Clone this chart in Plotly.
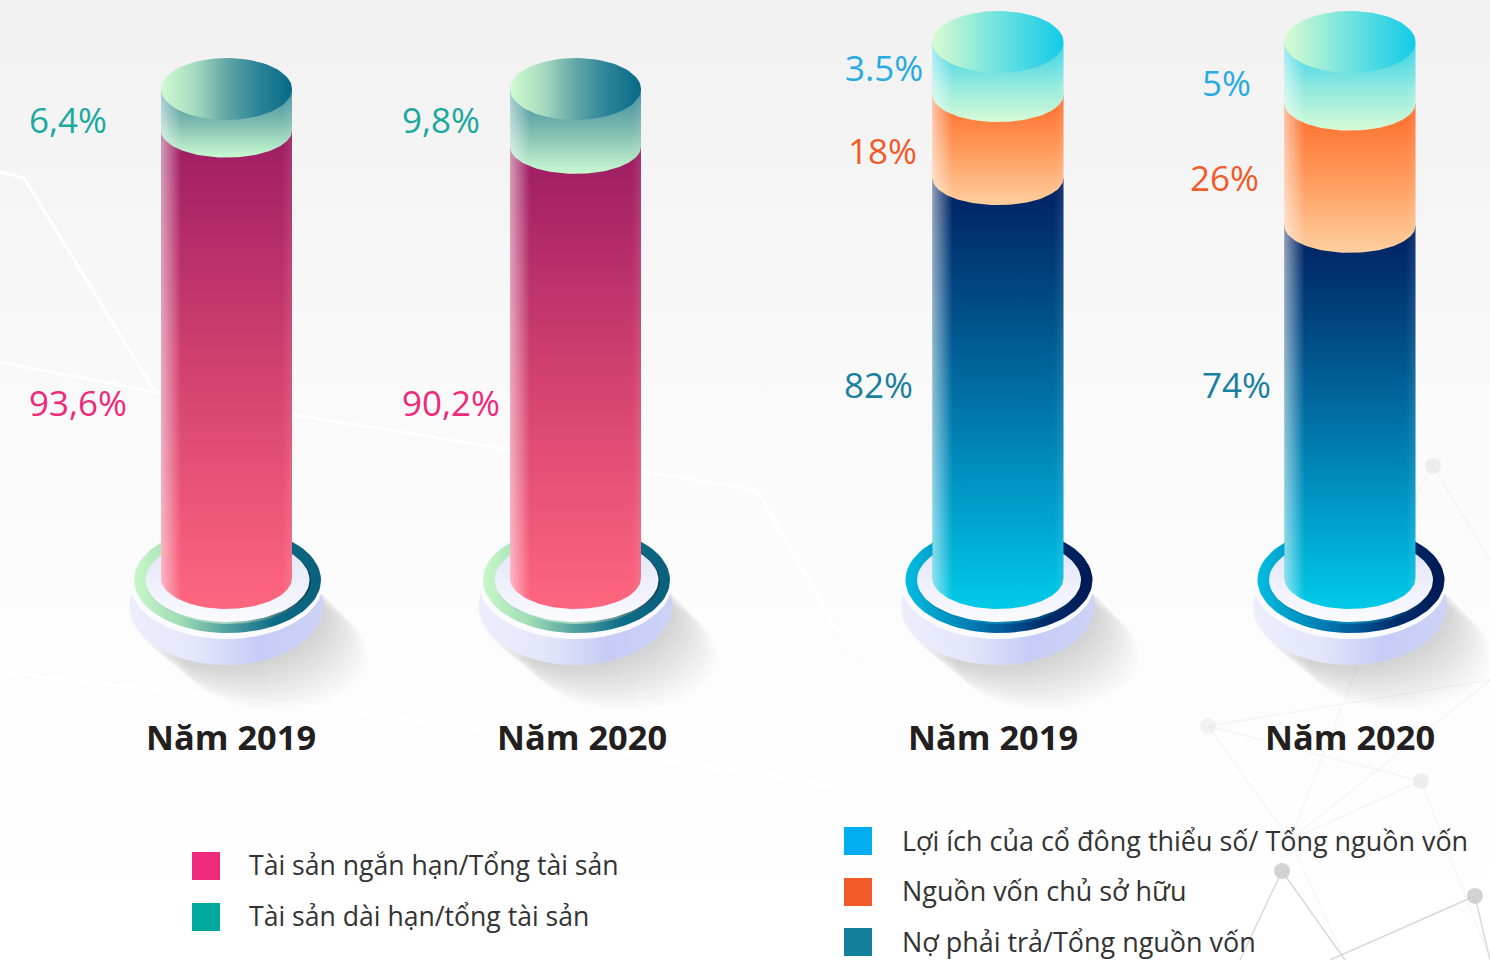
import math
import plotly.graph_objects as go

# ---------- data ----------
years = ["Năm 2019", "Năm 2020"]
asset_short = [93.6, 90.2]
asset_long = [6.4, 9.8]
asset_short_labels = ["93,6%", "90,2%"]
asset_long_labels = ["6,4%", "9,8%"]
# the right-hand cylinders are not drawn to the printed percentages:
debt_drawn = [74.6, 65.7]
equity_drawn = [15.5, 22.8]
minority_drawn = [9.9, 11.5]
debt_labels = ["82%", "74%"]
equity_labels = ["18%", "26%"]
minority_labels = ["3.5%", "5%"]
legend_left = ["Tài sản ngắn hạn/Tổng tài sản", "Tài sản dài hạn/tổng tài sản"]
legend_right = ["Lợi ích của cổ đông thiểu số/ Tổng nguồn vốn", "Nguồn vốn chủ sở hữu", "Nợ phải trả/Tổng nguồn vốn"]

PINK, TEAL, BLUE, ORANGE, PETROL = "#ee2a7b", "#00a99d", "#00aeef", "#f15a29", "#13809b"
FONT = "Open Sans"
W, H = 1490, 960
BASE_Y = 578

fig = go.Figure()


def grad(kind, stops):
    n = len(stops) - 1
    return dict(type=kind, colorscale=[[i / n, c] for i, c in enumerate(stops)])


def poly(xs, ys, g=None, color=None, axes=("x", "y"), line=None):
    kw = dict(fillgradient=g) if g else dict(fillcolor=color)
    fig.add_trace(go.Scatter(x=xs, y=ys, xaxis=axes[0], yaxis=axes[1], mode="lines", fill="toself",
                             line=line or dict(width=0), hoverinfo="skip", showlegend=False, **kw))


def ellipse(cx, cy, rx, ry, n=90):
    ts = [2 * math.pi * i / n for i in range(n + 1)]
    return [cx + rx * math.cos(t) for t in ts], [cy + ry * math.sin(t) for t in ts]


# ---------- backdrop, drawn on a page-sized axis pair ----------
poly([0, W, W, 0, 0], [0, 0, H, H, 0], g=grad("vertical", ["#ffffff", "#fbfbfb", "#f1f1f1"]))

white_lines = [
    ([0, 24, 155], [172, 178, 392]),
    ([0, 155, 757, 880], [362, 392, 490, 705]),
    ([0, 380, 860], [672, 715, 790]),
    ([300, 385], [640, 780]),
]
for xs, ys in white_lines:
    fig.add_trace(go.Scatter(x=xs, y=ys, mode="lines", line=dict(color="rgba(255,255,255,0.95)", width=3),
                             hoverinfo="skip", showlegend=False))

net_nodes = {"a": (1282, 871), "b": (1475, 896), "c": (1421, 781), "d": (1208, 726), "e": (1433, 466),
             "f": (1290, 840), "g": (1345, 960), "h": (1240, 960), "i": (1330, 960), "j": (1490, 960),
             "k": (1360, 660), "l": (1490, 680), "m": (1490, 560), "n": (1340, 630)}
net_edges = [("a", "h"), ("a", "g"), ("b", "i"), ("b", "j"), ("c", "d"), ("d", "f"), ("c", "f"), ("f", "l"),
             ("f", "k"), ("d", "l"), ("c", "j"), ("e", "m"), ("e", "n"), ("f", "g")]
for p, q in net_edges:
    dark = p in ("a", "b")
    fig.add_trace(go.Scatter(x=[net_nodes[p][0], net_nodes[q][0]], y=[net_nodes[p][1], net_nodes[q][1]], mode="lines",
                             line=dict(color="rgba(205,205,205,0.8)" if dark else "rgba(225,225,225,0.3)", width=1.4),
                             hoverinfo="skip", showlegend=False))
for key, alpha in (("a", .9), ("b", .9), ("c", .3), ("d", .22), ("e", .3)):
    fig.add_trace(go.Scatter(x=[net_nodes[key][0]], y=[net_nodes[key][1]], mode="markers",
                             marker=dict(color=f"rgba(205,205,205,{alpha})", size=16, line=dict(width=0)),
                             hoverinfo="skip", showlegend=False))


def pedestal(cx, ring, edge):
    steps = 40
    for k in range(steps, -1, -1):
        f = k / steps
        xs, ys = ellipse(cx + 50 * f, 610 + 46 * f, 97 - 5 * f, 58 - 3 * f, n=60)
        poly(xs, ys, color="rgba(150,158,205,0.012)")
    xs, ys = ellipse(cx, 606, 97, 59)
    poly(xs, ys, g=grad("horizontal", ["#eceefc", "#e4e7fa", "#c6ccf6", "#cdd2f6"]))
    xs, ys = ellipse(cx, 582, 97, 57)
    poly(xs, ys, color="#fbfbfe")
    xs, ys = ellipse(cx + 1, 580, 93.5, 53)
    poly(xs, ys, g=grad("horizontal", ring))
    xs, ys = ellipse(cx + 2, 581, 82.5, 43)
    poly(xs, ys, g=grad("horizontal", [edge[0], edge[0], edge[1]]))
    xs, ys = ellipse(cx + 1, 580, 82, 42)
    poly(xs, ys, g=grad("vertical", ["#fbfbfe", "#eceefa", "#e2e4f6"]))


# ---------- cylinders ----------
def cylinder(xc, levels, styles, cap, xunit, yunit, axes, top_extra):
    rx = 65.5 / xunit
    ys_level = [0] + levels
    sheen = ["rgba(255,255,255,0.55)", "rgba(255,255,255,0.28)"] + ["rgba(255,255,255,0)"] * 11 + ["rgba(255,255,255,0.1)"]
    for i, g in enumerate(styles):
        y0, y1 = ys_level[i], ys_level[i + 1]
        if i == len(styles) - 1:
            y1 += top_extra
        ry = (31 if i == 0 else 27) / yunit
        ts = [math.pi * j / 60 for j in range(61)]
        xs = [xc - rx, xc + rx] + [xc + rx * math.cos(t) for t in ts] + [xc - rx]
        ys = [y1, y1] + [y0 - ry * math.sin(t) for t in ts] + [y1]
        poly(xs, ys, g=g, axes=axes)
        poly(xs, ys, g=grad("horizontal", sheen), axes=axes)
    top = levels[-1] + top_extra
    xs, ys = ellipse(xc, top, rx, 31 / yunit)
    poly(xs, ys, g=cap, axes=axes)


LEFT_X, LEFT_Y = 349, 4.78
RIGHT_X, RIGHT_Y = 352, 5.36

GREEN_RING = ["#c8f7c8", "#9fdcb4", "#4f9fa0", "#0b6c88", "#0a5f7c"]
BLUE_RING = ["#00bde0", "#0090c0", "#005f9c", "#002a6c", "#001a55"]
for cx, ring, edge in ((226.5, GREEN_RING, ("#a8d8c0", "#063e58")), (575.5, GREEN_RING, ("#a8d8c0", "#063e58")),
                       (998, BLUE_RING, ("#0088b8", "#00154a")), (1350, BLUE_RING, ("#0088b8", "#00154a"))):
    pedestal(cx, ring, edge)

for i in range(2):
    cylinder(i, [asset_short[i], asset_short[i] + asset_long[i]],
             [grad("vertical", ["#ff667f", "#d2416f", "#9c1c63"]),
              grad("vertical", ["#c9fad2", "#7fbcb0", "#3b8a9f"])],
             grad("horizontal", ["#d0fad0", "#a8dcc0", "#62a6a6", "#2b8298", "#066a88"]),
             LEFT_X, LEFT_Y, ("x2", "y2"), 2.3)
    cylinder(i, [debt_drawn[i], debt_drawn[i] + equity_drawn[i], debt_drawn[i] + equity_drawn[i] + minority_drawn[i]],
             [grad("vertical", ["#00cbe8", "#009cc8", "#006fa4", "#00457f", "#001f60"]),
              grad("vertical", ["#ffcf9f", "#ff9a5c", "#ff6a28"]),
              grad("vertical", ["#d8fbd6", "#8ce8df", "#2fd0e8"])],
             grad("horizontal", ["#d8fcd0", "#a4efd8", "#70e2e0", "#40d6e4", "#12cbe8"]),
             RIGHT_X, RIGHT_Y, ("x3", "y3"), 0)

# ---------- text ----------
annotations = []


def label(text, x, y, color, size, bold=False, anchor="left"):
    annotations.append(dict(text=f"<b>{text}</b>" if bold else text, x=x, y=y, xref="x", yref="y", showarrow=False,
                            xanchor=anchor, yanchor="middle", font=dict(family=FONT, size=size, color=color)))


VAL = 35
for x, a, b in zip((27, 400), asset_long_labels, asset_short_labels):
    label(a, x, 119, "#1aa99d", VAL)
    label(b, x, 402, PINK, VAL)
for x1, x2, x3, a, b, c, y1, y2 in zip((843, 1200), (846, 1188), (842, 1200), minority_labels, equity_labels, debt_labels,
                                       (67, 82), (150, 177)):
    label(a, x1, y1, "#29abe2", VAL)
    label(b, x2, y2, ORANGE, VAL)
    label(c, x3, 384, "#1a7f9f", VAL)
for x, t in zip((231, 582, 993, 1350), years * 2):
    label(t, x, 736, "#231f20", 34.4, bold=True, anchor="center")

for name, color, sy in zip(legend_left, (PINK, TEAL), (866, 917)):
    fig.add_trace(go.Scatter(x=[206], y=[sy], mode="markers", marker=dict(symbol="square", size=28, color=color),
                             hoverinfo="skip", showlegend=False))
    label(name, 247, sy - 1, "#333333", 26.6)
for name, color, sy, ty in zip(legend_right, (BLUE, ORANGE, PETROL), (841, 892, 942), (840, 890, 941)):
    fig.add_trace(go.Scatter(x=[858], y=[sy], mode="markers", marker=dict(symbol="square", size=28, color=color),
                             hoverinfo="skip", showlegend=False))
    label(name, 900, ty, "#333333", 26.95)

# ---------- axes: each pair fills the page and maps to the pixels of the picture ----------
hidden = dict(visible=False, domain=[0, 1], fixedrange=True)
fig.update_layout(
    width=W, height=H, margin=dict(l=0, r=0, t=0, b=0), showlegend=False,
    paper_bgcolor="white", plot_bgcolor="rgba(0,0,0,0)", annotations=annotations,
    xaxis=dict(range=[0, W], **hidden),
    yaxis=dict(range=[H, 0], **hidden),
    xaxis2=dict(range=[-226.5 / LEFT_X, (W - 226.5) / LEFT_X], anchor="y2", **hidden),
    yaxis2=dict(range=[(BASE_Y - H) / LEFT_Y, BASE_Y / LEFT_Y], anchor="x2", **hidden),
    xaxis3=dict(range=[-998 / RIGHT_X, (W - 998) / RIGHT_X], anchor="y3", **hidden),
    yaxis3=dict(range=[(BASE_Y - H) / RIGHT_Y, BASE_Y / RIGHT_Y], anchor="x3", **hidden),
)
fig.write_html("out.html", config={"displayModeBar": False},
               post_script="document.body.style.margin='0';document.body.style.overflow='hidden';")
